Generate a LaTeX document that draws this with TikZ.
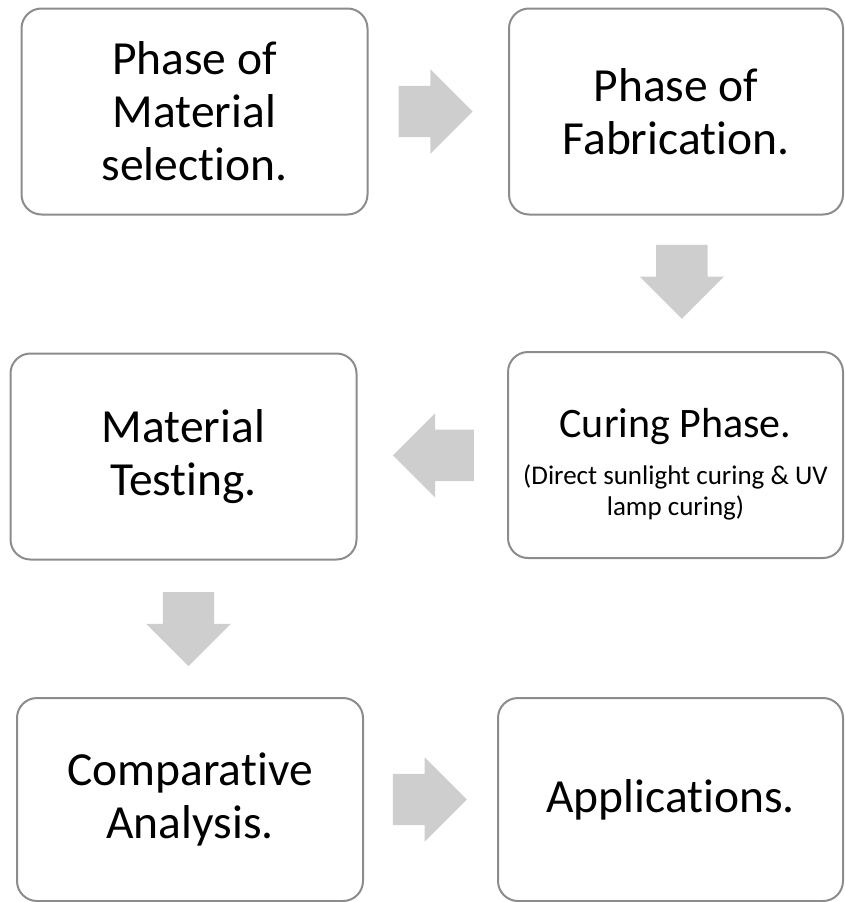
\documentclass[tikz,border=0pt]{standalone}
\usepackage{fontspec}
\setmainfont{Carlito}[Ligatures=NoCommon,RawFeature={-liga;-clig;-calt;-dlig}]
\usetikzlibrary{shapes.arrows,calc}

\definecolor{boxline}{RGB}{140,140,140}
\definecolor{arrowfill}{RGB}{206,206,206}

\tikzset{
  phase/.style={rectangle, draw=boxline, line width=2pt, rounded corners=20pt,
    minimum width=346pt, minimum height=206pt, inner sep=0pt, align=center,
    font=\fontsize{47.5}{53}\selectfont},
  flow/.style={single arrow, fill=arrowfill, draw=none, inner xsep=0pt,
    inner ysep=25.5pt, minimum height=74pt, single arrow head extend=16.5pt,
    anchor=tail}
}

\begin{document}
\begin{tikzpicture}[x=1pt,y=-1pt]
  \useasboundingbox (0,0) rectangle (844,902);

  \node[phase] (select) at (194.50,111.50) {Phase of\\Material\\selection.};
  \node[phase, minimum width=334pt] (fabric) at (676.00,111.50) {Phase of\\Fabrication.};
  \node[phase, minimum width=335pt, font=\fontsize{42}{47}\selectfont] (curing) at (675.50,455.00)
    {\rule{0pt}{47pt}Curing Phase.\\{\fontsize{27}{31}\selectfont (Direct sunlight curing \& UV}\\[-16pt]{\fontsize{27}{31}\selectfont lamp curing)}};
  \node[phase] (testing) at (183.50,456.50) {Material\\Testing.};
  \node[phase, minimum height=203pt] (compare) at (190.00,799.50) {Comparative\\Analysis.};
  \node[phase, minimum width=345pt, minimum height=203pt] (apply) at (670.50,799.50) {Applications.};

  \node[flow] (a1) at ($(select.east)!0.215!(fabric.west)$) {};
  \node[flow, rotate=-90] (a2) at ($(fabric.south)!0.215!(curing.north)+(6,0)$) {};
  \node[flow, rotate=180, minimum height=81pt] (a3) at ($(curing.west)!0.22!(testing.east)$) {};
  \node[flow, rotate=-90] (a4) at ($(testing.south)!0.23!(compare.north)+(3.5,0)$) {};
  \node[flow] (a5) at ($(compare.east)!0.215!(apply.west)$) {};
\end{tikzpicture}
\end{document}
